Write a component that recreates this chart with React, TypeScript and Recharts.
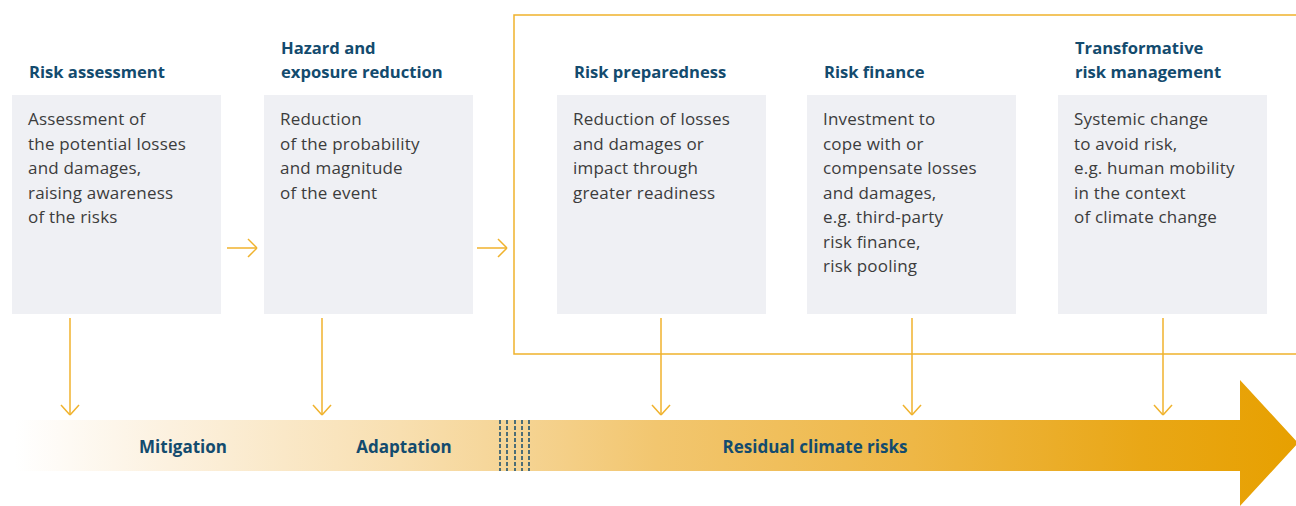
import React from 'react';
import {
  ComposedChart,
  XAxis,
  YAxis,
  Area,
  ReferenceArea,
  ReferenceLine,
  ReferenceDot,
} from 'recharts';

// ---- content ----
const stageTitles: string[][] = [
  ['Risk assessment'],
  ['Hazard and', 'exposure reduction'],
  ['Risk preparedness'],
  ['Risk finance'],
  ['Transformative', 'risk management'],
];

const stageDescriptions: string[][] = [
  ['Assessment of', 'the potential losses', 'and damages,', 'raising awareness', 'of the risks'],
  ['Reduction', 'of the probability', 'and magnitude', 'of the event'],
  ['Reduction of losses', 'and damages or', 'impact through', 'greater readiness'],
  ['Investment to', 'cope with or', 'compensate losses', 'and damages,', 'e.g. third-party', 'risk finance,', 'risk pooling'],
  ['Systemic change', 'to avoid risk,', 'e.g. human mobility', 'in the context', 'of climate change'],
];

const zoneLabels: string[] = ['Mitigation', 'Adaptation', 'Residual climate risks'];

// ---- layout (diagram coordinates, chart units = pixels) ----
const W = 1296;
const H = 506;
const boxLeft = [12, 264, 557, 807, 1058];
const boxWidth = 209;
const boxTop = 95;
const boxBottom = 314;
const dropArrowX = [70, 322, 661, 912, 1163];
const dropTop = 318;
const dropTip = 415;
const flowArrows = [
  [227, 257],
  [477, 507],
];
const flowY = 248;
const frame = { x1: 514, x2: 1320, y1: 15, y2: 354 };
const dividerX = [500, 507, 515, 522, 529];
const barTop = 420;
const barBottom = 471;
const zoneCenters = [183, 404, 815];
const zoneY = 446;

// big arrow outline as a range series
const arrowData = [
  { x: 15, r: [barTop, barBottom] },
  { x: 1240, r: [barTop, barBottom] },
  { x: 1240, r: [380, 506] },
  { x: 1298, r: [443, 443] },
];

const ORANGE = '#F0B22C';
const BLUE = '#134B6E';
const TEXT = '#3C3C3C';
const BOX = '#EFF0F4';
const FONT = '"Open Sans", sans-serif';

const BoxLabel = (props: any) => {
  const { viewBox, title, lines } = props;
  const x = viewBox.x + 16;
  const titleBase = viewBox.y - 17;
  return (
    <g>
      <text
        x={x + 1}
        y={titleBase - (title.length - 1) * 24}
        fill={BLUE}
        fontFamily={FONT}
        fontWeight={700}
        fontSize={16.6}
      >
        {title.map((t: string, i: number) => (
          <tspan key={i} x={x + 1} dy={i === 0 ? 0 : 24}>
            {t}
          </tspan>
        ))}
      </text>
      <text
        x={x}
        y={viewBox.y + 30}
        fill={TEXT}
        fontFamily={FONT}
        fontSize={17}
        letterSpacing={0.2}
      >
        {lines.map((t: string, i: number) => (
          <tspan key={i} x={x} dy={i === 0 ? 0 : 24.5}>
            {t}
          </tspan>
        ))}
      </text>
    </g>
  );
};

const ZoneLabel = (props: any) => {
  const { viewBox, value } = props;
  return (
    <text
      x={viewBox.x}
      y={viewBox.y}
      textAnchor="middle"
      dominantBaseline="central"
      fill={BLUE}
      fontFamily={FONT}
      fontWeight={700}
      fontSize={17}
    >
      {value}
    </text>
  );
};

export default function App() {
  return (
    <div style={{ position: 'absolute', left: 0, top: 0, width: W, height: H, background: '#fff' }}>
      <ComposedChart
        width={W}
        height={H}
        data={arrowData}
        margin={{ top: 0, right: 0, bottom: 0, left: 0 }}
      >
        <defs>
          <linearGradient id="barGrad" x1="0" y1="0" x2="1" y2="0">
            <stop offset="0%" stopColor="#FFFFFF" />
            <stop offset="12%" stopColor="#FCF1DF" />
            <stop offset="30%" stopColor="#F8DFB0" />
            <stop offset="40%" stopColor="#F5D391" />
            <stop offset="50%" stopColor="#F2C66F" />
            <stop offset="70%" stopColor="#EEB746" />
            <stop offset="88%" stopColor="#E9A716" />
            <stop offset="100%" stopColor="#E7A000" />
          </linearGradient>
        </defs>
        <XAxis type="number" dataKey="x" domain={[0, W]} hide allowDataOverflow />
        <YAxis type="number" domain={[0, H]} reversed hide allowDataOverflow />

        <ReferenceArea
          x1={frame.x1}
          x2={frame.x2}
          y1={frame.y1}
          y2={frame.y2}
          fill="none"
          fillOpacity={0}
          stroke={ORANGE}
          strokeWidth={1.5}
          ifOverflow="visible"
        />

        {boxLeft.map((bx, i) => (
          <ReferenceArea
            key={'box' + i}
            x1={bx}
            x2={bx + boxWidth}
            y1={boxTop}
            y2={boxBottom}
            fill={BOX}
            fillOpacity={1}
            stroke="none"
            ifOverflow="visible"
            label={<BoxLabel title={stageTitles[i]} lines={stageDescriptions[i]} />}
          />
        ))}

        {flowArrows.map(([a, b], i) => (
          <React.Fragment key={'flow' + i}>
            <ReferenceLine segment={[{ x: a, y: flowY }, { x: b, y: flowY }]} stroke={ORANGE} strokeWidth={1.5} ifOverflow="visible" />
            <ReferenceLine segment={[{ x: b - 9, y: flowY - 9 }, { x: b, y: flowY }]} stroke={ORANGE} strokeWidth={1.5} ifOverflow="visible" />
            <ReferenceLine segment={[{ x: b - 9, y: flowY + 9 }, { x: b, y: flowY }]} stroke={ORANGE} strokeWidth={1.5} ifOverflow="visible" />
          </React.Fragment>
        ))}

        <Area
          dataKey="r"
          type="linear"
          stroke="none"
          fill="url(#barGrad)"
          fillOpacity={1}
          isAnimationActive={false}
          activeDot={false}
          dot={false}
        />

        {dropArrowX.map((ax, i) => (
          <React.Fragment key={'drop' + i}>
            <ReferenceLine segment={[{ x: ax, y: dropTop }, { x: ax, y: dropTip }]} stroke={ORANGE} strokeWidth={1.5} ifOverflow="visible" />
            <ReferenceLine segment={[{ x: ax - 9, y: dropTip - 10 }, { x: ax, y: dropTip }]} stroke={ORANGE} strokeWidth={1.5} ifOverflow="visible" />
            <ReferenceLine segment={[{ x: ax + 9, y: dropTip - 10 }, { x: ax, y: dropTip }]} stroke={ORANGE} strokeWidth={1.5} ifOverflow="visible" />
          </React.Fragment>
        ))}

        {dividerX.map((dx, i) => (
          <ReferenceLine
            key={'div' + i}
            segment={[{ x: dx, y: barTop }, { x: dx, y: barBottom }]}
            stroke={BLUE}
            strokeWidth={1.5}
            strokeDasharray="4 2"
            ifOverflow="visible"
          />
        ))}

        {zoneLabels.map((z, i) => (
          <ReferenceDot
            key={'zone' + i}
            x={zoneCenters[i]}
            y={zoneY}
            r={0}
            fill="none"
            stroke="none"
            ifOverflow="visible"
            label={<ZoneLabel value={z} />}
          />
        ))}
      </ComposedChart>
    </div>
  );
}
